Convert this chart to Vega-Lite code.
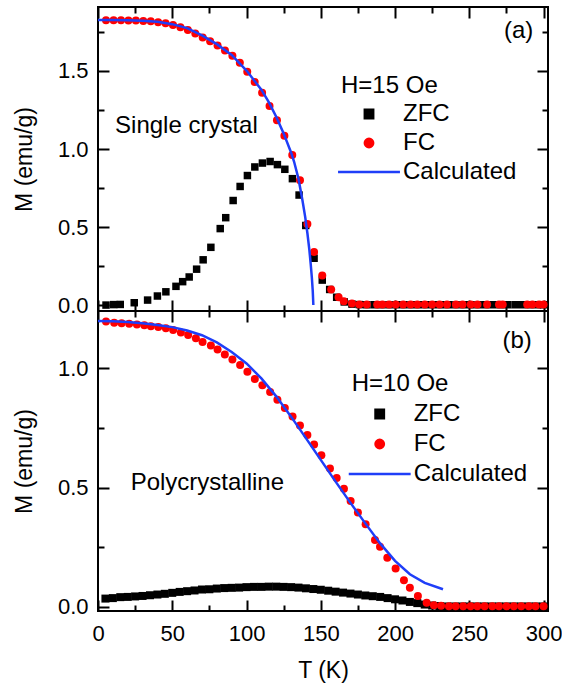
{
  "$schema": "https://vega.github.io/schema/vega-lite/v6.json",
  "background": "white",
  "padding": {"left": 12, "top": 5, "right": 0, "bottom": 5},
  "bounds": "flush",
  "spacing": 0,
  "config": {
    "font": "Liberation Sans",
    "view": {"stroke": "black", "strokeWidth": 2},
    "axis": {"domain": false, "tickColor": "black", "tickWidth": 2, "labelColor": "black", "labelFontSize": 22, "labelFont": "Liberation Sans", "titleFont": "Liberation Sans", "titleFontSize": 23, "titleFontWeight": "normal", "titleColor": "black", "grid": false, "labelFlush": false},
    "text": {"font": "Liberation Sans", "fontSize": 24, "color": "black"}
  },
  "datasets": {
    "a": [
      {"s":"ZFC","T":5.4,"M":0.0},{"s":"ZFC","T":10.6,"M":0.003},{"s":"ZFC","T":15,"M":0.004},{"s":"ZFC","T":24.4,"M":0.015},{"s":"ZFC","T":33.4,"M":0.032},{"s":"ZFC","T":40,"M":0.058},{"s":"ZFC","T":45.7,"M":0.085},{"s":"ZFC","T":52.5,"M":0.12},{"s":"ZFC","T":57,"M":0.15},{"s":"ZFC","T":61.4,"M":0.18},{"s":"ZFC","T":66.4,"M":0.23},{"s":"ZFC","T":70.8,"M":0.29},{"s":"ZFC","T":76,"M":0.37},{"s":"ZFC","T":82.3,"M":0.49},{"s":"ZFC","T":86,"M":0.56},{"s":"ZFC","T":91,"M":0.67},{"s":"ZFC","T":95.7,"M":0.76},{"s":"ZFC","T":100.6,"M":0.83},{"s":"ZFC","T":105.6,"M":0.885},{"s":"ZFC","T":110.7,"M":0.91},{"s":"ZFC","T":115.9,"M":0.92},{"s":"ZFC","T":120.8,"M":0.9},{"s":"ZFC","T":125.8,"M":0.87},{"s":"ZFC","T":130.9,"M":0.81},{"s":"ZFC","T":135.4,"M":0.705},{"s":"ZFC","T":139.9,"M":0.51},{"s":"ZFC","T":145.5,"M":0.3},{"s":"ZFC","T":151,"M":0.16},{"s":"ZFC","T":156,"M":0.1},{"s":"ZFC","T":160.7,"M":0.05},{"s":"ZFC","T":165.8,"M":0.02},{"s":"ZFC","T":171,"M":0.006},{"s":"ZFC","T":176,"M":0.003},{"s":"ZFC","T":181,"M":0.002},{"s":"ZFC","T":186,"M":0.002},{"s":"ZFC","T":191,"M":0.002},{"s":"ZFC","T":196,"M":0.002},{"s":"ZFC","T":201,"M":0.002},{"s":"ZFC","T":206,"M":0.002},{"s":"ZFC","T":211,"M":0.002},{"s":"ZFC","T":216,"M":0.002},{"s":"ZFC","T":221,"M":0.002},{"s":"ZFC","T":226,"M":0.002},{"s":"ZFC","T":231,"M":0.002},{"s":"ZFC","T":236,"M":0.002},{"s":"ZFC","T":241,"M":0.002},{"s":"ZFC","T":246,"M":0.002},{"s":"ZFC","T":251,"M":0.002},{"s":"ZFC","T":256,"M":0.002},{"s":"ZFC","T":261,"M":0.002},{"s":"ZFC","T":266,"M":0.002},{"s":"ZFC","T":271,"M":0.002},{"s":"ZFC","T":276,"M":0.002},{"s":"ZFC","T":281,"M":0.002},{"s":"ZFC","T":286,"M":0.002},{"s":"ZFC","T":291,"M":0.002},{"s":"ZFC","T":296,"M":0.002},{"s":"ZFC","T":300,"M":0.002},
      {"s":"FC","T":5.4,"M":1.825},{"s":"FC","T":10.5,"M":1.825},{"s":"FC","T":15.5,"M":1.825},{"s":"FC","T":20.5,"M":1.824},{"s":"FC","T":25.5,"M":1.823},{"s":"FC","T":30.5,"M":1.821},{"s":"FC","T":35.5,"M":1.818},{"s":"FC","T":40.5,"M":1.813},{"s":"FC","T":45.5,"M":1.806},{"s":"FC","T":50.5,"M":1.795},{"s":"FC","T":55.5,"M":1.78},{"s":"FC","T":60.5,"M":1.763},{"s":"FC","T":65.5,"M":1.74},{"s":"FC","T":70.5,"M":1.715},{"s":"FC","T":75.5,"M":1.69},{"s":"FC","T":80.5,"M":1.663},{"s":"FC","T":85.5,"M":1.632},{"s":"FC","T":90.5,"M":1.598},{"s":"FC","T":95.5,"M":1.552},{"s":"FC","T":100.5,"M":1.495},{"s":"FC","T":105.5,"M":1.43},{"s":"FC","T":110.5,"M":1.36},{"s":"FC","T":115.5,"M":1.275},{"s":"FC","T":120.5,"M":1.185},{"s":"FC","T":125.5,"M":1.085},{"s":"FC","T":130.8,"M":0.962},{"s":"FC","T":136,"M":0.8},{"s":"FC","T":141,"M":0.52},{"s":"FC","T":145.5,"M":0.34},{"s":"FC","T":151,"M":0.19},{"s":"FC","T":157,"M":0.1},{"s":"FC","T":162,"M":0.05},{"s":"FC","T":165.5,"M":0.025},{"s":"FC","T":171,"M":0.01},{"s":"FC","T":176,"M":0.004},{"s":"FC","T":181,"M":0.004},{"s":"FC","T":188,"M":0.004},{"s":"FC","T":191.5,"M":0.004},{"s":"FC","T":196,"M":0.004},{"s":"FC","T":200.5,"M":0.004},{"s":"FC","T":205.5,"M":0.004},{"s":"FC","T":210.5,"M":0.004},{"s":"FC","T":215,"M":0.004},{"s":"FC","T":220,"M":0.004},{"s":"FC","T":225,"M":0.004},{"s":"FC","T":230,"M":0.004},{"s":"FC","T":235,"M":0.004},{"s":"FC","T":241,"M":0.004},{"s":"FC","T":245.5,"M":0.004},{"s":"FC","T":251,"M":0.004},{"s":"FC","T":255.5,"M":0.004},{"s":"FC","T":262,"M":0.004},{"s":"FC","T":270,"M":0.004},{"s":"FC","T":272.5,"M":0.004},{"s":"FC","T":289,"M":0.004},{"s":"FC","T":292.5,"M":0.004},{"s":"FC","T":297,"M":0.004},{"s":"FC","T":300,"M":0.004},
      {"s":"Calculated","T":0,"M":1.826},{"s":"Calculated","T":10,"M":1.826},{"s":"Calculated","T":20,"M":1.825},{"s":"Calculated","T":30,"M":1.822},{"s":"Calculated","T":40,"M":1.815},{"s":"Calculated","T":50,"M":1.8},{"s":"Calculated","T":60,"M":1.775},{"s":"Calculated","T":70,"M":1.728},{"s":"Calculated","T":80,"M":1.672},{"s":"Calculated","T":90,"M":1.603},{"s":"Calculated","T":100,"M":1.503},{"s":"Calculated","T":110,"M":1.38},{"s":"Calculated","T":115,"M":1.3},{"s":"Calculated","T":120,"M":1.207},{"s":"Calculated","T":125,"M":1.1},{"s":"Calculated","T":130,"M":0.978},{"s":"Calculated","T":132,"M":0.92},{"s":"Calculated","T":135,"M":0.81},{"s":"Calculated","T":137.6,"M":0.675},{"s":"Calculated","T":139.5,"M":0.565},{"s":"Calculated","T":141,"M":0.46},{"s":"Calculated","T":142.3,"M":0.355},{"s":"Calculated","T":143.2,"M":0.265},{"s":"Calculated","T":144,"M":0.175},{"s":"Calculated","T":144.6,"M":0.09},{"s":"Calculated","T":145,"M":0.0}
    ],
    "b": [
      {"s":"ZFC","T":5,"M":0.035},{"s":"ZFC","T":10,"M":0.037},{"s":"ZFC","T":15,"M":0.041},{"s":"ZFC","T":20,"M":0.042},{"s":"ZFC","T":25,"M":0.044},{"s":"ZFC","T":30,"M":0.046},{"s":"ZFC","T":35,"M":0.049},{"s":"ZFC","T":40,"M":0.052},{"s":"ZFC","T":45,"M":0.055},{"s":"ZFC","T":50,"M":0.059},{"s":"ZFC","T":55,"M":0.063},{"s":"ZFC","T":60,"M":0.066},{"s":"ZFC","T":65,"M":0.069},{"s":"ZFC","T":70,"M":0.073},{"s":"ZFC","T":75,"M":0.074},{"s":"ZFC","T":80,"M":0.077},{"s":"ZFC","T":85,"M":0.079},{"s":"ZFC","T":90,"M":0.08},{"s":"ZFC","T":95,"M":0.081},{"s":"ZFC","T":100,"M":0.083},{"s":"ZFC","T":105,"M":0.084},{"s":"ZFC","T":110,"M":0.084},{"s":"ZFC","T":115,"M":0.085},{"s":"ZFC","T":120,"M":0.085},{"s":"ZFC","T":125,"M":0.084},{"s":"ZFC","T":130,"M":0.083},{"s":"ZFC","T":135,"M":0.081},{"s":"ZFC","T":140,"M":0.078},{"s":"ZFC","T":145,"M":0.075},{"s":"ZFC","T":150,"M":0.072},{"s":"ZFC","T":155,"M":0.068},{"s":"ZFC","T":160,"M":0.064},{"s":"ZFC","T":165,"M":0.06},{"s":"ZFC","T":170,"M":0.056},{"s":"ZFC","T":175,"M":0.052},{"s":"ZFC","T":180,"M":0.048},{"s":"ZFC","T":185,"M":0.045},{"s":"ZFC","T":190,"M":0.042},{"s":"ZFC","T":195,"M":0.037},{"s":"ZFC","T":200,"M":0.032},{"s":"ZFC","T":205,"M":0.027},{"s":"ZFC","T":210,"M":0.021},{"s":"ZFC","T":215,"M":0.016},{"s":"ZFC","T":220,"M":0.01},{"s":"ZFC","T":225,"M":0.006},{"s":"ZFC","T":230,"M":0.004},{"s":"ZFC","T":235,"M":0.002},{"s":"ZFC","T":240,"M":0.002},{"s":"ZFC","T":245,"M":0.002},{"s":"ZFC","T":250,"M":0.002},{"s":"ZFC","T":255,"M":0.002},{"s":"ZFC","T":260,"M":0.002},{"s":"ZFC","T":265,"M":0.002},{"s":"ZFC","T":270,"M":0.002},{"s":"ZFC","T":275,"M":0.002},{"s":"ZFC","T":280,"M":0.002},{"s":"ZFC","T":285,"M":0.002},{"s":"ZFC","T":290,"M":0.002},{"s":"ZFC","T":295,"M":0.002},{"s":"ZFC","T":300,"M":0.002},
      {"s":"FC","T":5.4,"M":1.195},{"s":"FC","T":10.9,"M":1.19},{"s":"FC","T":15.9,"M":1.188},{"s":"FC","T":21,"M":1.186},{"s":"FC","T":26.2,"M":1.183},{"s":"FC","T":31.2,"M":1.18},{"s":"FC","T":35.6,"M":1.176},{"s":"FC","T":40.6,"M":1.172},{"s":"FC","T":45.7,"M":1.167},{"s":"FC","T":50.6,"M":1.16},{"s":"FC","T":55.8,"M":1.149},{"s":"FC","T":60.7,"M":1.139},{"s":"FC","T":65.9,"M":1.125},{"s":"FC","T":70.4,"M":1.11},{"s":"FC","T":76,"M":1.095},{"s":"FC","T":80.5,"M":1.078},{"s":"FC","T":85.4,"M":1.057},{"s":"FC","T":90.5,"M":1.036},{"s":"FC","T":95.7,"M":1.013},{"s":"FC","T":100.6,"M":0.985},{"s":"FC","T":105.6,"M":0.955},{"s":"FC","T":110.7,"M":0.929},{"s":"FC","T":115.9,"M":0.9},{"s":"FC","T":120.8,"M":0.868},{"s":"FC","T":125.8,"M":0.833},{"s":"FC","T":131,"M":0.798},{"s":"FC","T":136,"M":0.76},{"s":"FC","T":141,"M":0.72},{"s":"FC","T":145.5,"M":0.68},{"s":"FC","T":150.4,"M":0.635},{"s":"FC","T":156.2,"M":0.58},{"s":"FC","T":160.7,"M":0.54},{"s":"FC","T":165.6,"M":0.495},{"s":"FC","T":170.1,"M":0.444},{"s":"FC","T":175,"M":0.396},{"s":"FC","T":180.2,"M":0.346},{"s":"FC","T":186.5,"M":0.28},{"s":"FC","T":189.9,"M":0.252},{"s":"FC","T":194.8,"M":0.206},{"s":"FC","T":200.4,"M":0.161},{"s":"FC","T":206,"M":0.112},{"s":"FC","T":210,"M":0.08},{"s":"FC","T":215.4,"M":0.046},{"s":"FC","T":221.3,"M":0.018},{"s":"FC","T":226.2,"M":0.007},{"s":"FC","T":231,"M":0.005},{"s":"FC","T":236.3,"M":0.003},{"s":"FC","T":240.8,"M":0.003},{"s":"FC","T":245.9,"M":0.003},{"s":"FC","T":250.9,"M":0.003},{"s":"FC","T":255.4,"M":0.003},{"s":"FC","T":260.3,"M":0.003},{"s":"FC","T":265.5,"M":0.003},{"s":"FC","T":270,"M":0.003},{"s":"FC","T":275.1,"M":0.003},{"s":"FC","T":280,"M":0.003},{"s":"FC","T":285,"M":0.003},{"s":"FC","T":290.1,"M":0.003},{"s":"FC","T":294.6,"M":0.003},{"s":"FC","T":300,"M":0.003},
      {"s":"Calculated","T":0,"M":1.198},{"s":"Calculated","T":10,"M":1.197},{"s":"Calculated","T":20,"M":1.193},{"s":"Calculated","T":30,"M":1.188},{"s":"Calculated","T":40,"M":1.181},{"s":"Calculated","T":50,"M":1.172},{"s":"Calculated","T":60,"M":1.158},{"s":"Calculated","T":70,"M":1.138},{"s":"Calculated","T":80,"M":1.108},{"s":"Calculated","T":90,"M":1.068},{"s":"Calculated","T":100,"M":1.02},{"s":"Calculated","T":110,"M":0.957},{"s":"Calculated","T":120,"M":0.882},{"s":"Calculated","T":130,"M":0.797},{"s":"Calculated","T":140,"M":0.707},{"s":"Calculated","T":150,"M":0.616},{"s":"Calculated","T":160,"M":0.525},{"s":"Calculated","T":170,"M":0.436},{"s":"Calculated","T":180,"M":0.35},{"s":"Calculated","T":190,"M":0.266},{"s":"Calculated","T":200,"M":0.193},{"s":"Calculated","T":210,"M":0.137},{"s":"Calculated","T":220,"M":0.101},{"s":"Calculated","T":232.3,"M":0.074}
    ],
    "one": [{"k": 1}]
  },
  "resolve": {"scale": {"color": "independent", "shape": "independent"}, "legend": {"color": "independent", "shape": "independent"}},
  "vconcat": [
    {
      "width": 450,
      "height": 304,
      "data": {"name": "a"},
      "resolve": {"axis": {"x": "independent", "y": "independent"}},
      "layer": [
        {
          "transform": [{"filter": "datum.s === 'ZFC'"}],
          "mark": {"type": "point", "filled": true, "opacity": 1, "size": 56},
          "encoding": {
            "x": {"field": "T", "type": "quantitative", "scale": {"domain": [0, 303], "nice": false, "zero": false}, "axis": {"orient": "bottom", "values": [0,50,100,150,200,250,300], "tickSize": 11, "offset": -11, "labels": false, "title": null}},
            "y": {"field": "M", "type": "quantitative", "scale": {"domain": [-0.038, 1.91], "nice": false, "zero": false}, "axis": {"orient": "left", "values": [0,0.5,1,1.5], "format": ".1f", "tickSize": 11, "offset": -11, "labelPadding": 10, "title": "M (emu/g)", "titlePadding": 21}},
            "color": {"field": "s", "type": "nominal", "scale": {"domain": ["ZFC","FC","Calculated"], "range": ["#000000","#ff0000","#1f3ef8"]}, "legend": {"title": "H=15 Oe", "orient": "none", "legendX": 243, "legendY": 67, "padding": 0, "titleFontSize": 24, "titleFontWeight": "normal", "titleColor": "black", "titlePadding": 4, "labelFontSize": 24, "labelColor": "black", "labelOffset": 22, "symbolOffset": 16, "symbolSize": 70, "symbolStrokeWidth": 2.5, "rowPadding": 5, "symbolOpacity": 1, "encode": {"symbols": {"update": {"stroke": {"signal": "datum.value === 'Calculated' ? '#1f3ef8' : 'transparent'"}}}}}},
            "shape": {"field": "s", "type": "nominal", "scale": {"domain": ["ZFC","FC","Calculated"], "range": ["square","circle","M-7.4,0H7.4"]}, "legend": {"title": "H=15 Oe", "orient": "none", "legendX": 243, "legendY": 67, "padding": 0, "titleFontSize": 24, "titleFontWeight": "normal", "titleColor": "black", "titlePadding": 4, "labelFontSize": 24, "labelColor": "black", "labelOffset": 22, "symbolOffset": 16, "symbolSize": 70, "symbolStrokeWidth": 2.5, "rowPadding": 5, "symbolOpacity": 1, "encode": {"symbols": {"update": {"stroke": {"signal": "datum.value === 'Calculated' ? '#1f3ef8' : 'transparent'"}}}}}}
          }
        },
        {
          "transform": [{"filter": "datum.s === 'FC'"}],
          "mark": {"type": "point", "filled": true, "opacity": 1, "size": 64},
          "encoding": {
            "x": {"field": "T", "type": "quantitative", "axis": {"orient": "top", "values": [0,50,100,150,200,250,300], "tickSize": 11, "offset": -11, "labels": false, "title": null}},
            "y": {"field": "M", "type": "quantitative", "axis": {"orient": "right", "values": [0,0.5,1,1.5], "tickSize": 11, "offset": -11, "labels": false, "title": null}},
            "color": {"field": "s", "type": "nominal"},
            "shape": {"field": "s", "type": "nominal"}
          }
        },
        {
          "transform": [{"filter": "datum.s === 'Calculated'"}],
          "mark": {"type": "line", "strokeWidth": 2.5},
          "encoding": {
            "x": {"field": "T", "type": "quantitative", "axis": {"orient": "bottom", "values": [25,75,125,175,225,275], "tickSize": 6, "offset": -6, "labels": false, "title": null}},
            "y": {"field": "M", "type": "quantitative", "axis": {"orient": "left", "values": [0.25,0.75,1.25,1.75], "tickSize": 6, "offset": -6, "labels": false, "title": null}},
            "color": {"field": "s", "type": "nominal"}
          }
        },
        {
          "data": {"name": "one"},
          "mark": {"type": "text", "align": "center", "baseline": "middle", "fontSize": 24},
          "encoding": {
            "x": {"datum": 283.2, "type": "quantitative", "axis": {"orient": "top", "values": [25,75,125,175,225,275], "tickSize": 6, "offset": -6, "labels": false, "title": null}},
            "y": {"datum": 1.756, "type": "quantitative", "axis": {"orient": "right", "values": [0.25,0.75,1.25,1.75], "tickSize": 6, "offset": -6, "labels": false, "title": null}},
            "text": {"value": "(a)"}
          }
        },
        {
          "data": {"name": "one"},
          "mark": {"type": "text", "align": "left", "baseline": "middle", "fontSize": 24},
          "encoding": {
            "x": {"datum": 11.5, "type": "quantitative", "axis": null},
            "y": {"datum": 1.147, "type": "quantitative", "axis": null},
            "text": {"value": "Single crystal"}
          }
        }
      ]
    },
    {
      "width": 450,
      "height": 300,
      "data": {"name": "b"},
      "resolve": {"axis": {"x": "independent", "y": "independent"}},
      "layer": [
        {
          "transform": [{"filter": "datum.s === 'ZFC'"}],
          "mark": {"type": "point", "filled": true, "opacity": 1, "size": 64},
          "encoding": {
            "x": {"field": "T", "type": "quantitative", "scale": {"domain": [0, 303], "nice": false, "zero": false}, "axis": {"orient": "bottom", "values": [0,50,100,150,200,250,300], "tickSize": 11, "offset": -11, "labelPadding": 12, "title": "T (K)", "titlePadding": 15}},
            "y": {"field": "M", "type": "quantitative", "scale": {"domain": [-0.017, 1.2395], "nice": false, "zero": false}, "axis": {"orient": "left", "values": [0,0.5,1], "format": ".1f", "tickSize": 11, "offset": -11, "labelPadding": 10, "title": "M (emu/g)", "titlePadding": 21}},
            "color": {"field": "s", "type": "nominal", "scale": {"domain": ["ZFC","FC","Calculated"], "range": ["#000000","#ff0000","#1f3ef8"]}, "legend": {"title": "H=10 Oe", "orient": "none", "legendX": 253.7, "legendY": 61, "padding": 0, "titleFontSize": 24, "titleFontWeight": "normal", "titleColor": "black", "titlePadding": 6, "labelFontSize": 24, "labelColor": "black", "labelOffset": 22, "symbolOffset": 16, "symbolSize": 70, "symbolStrokeWidth": 2.5, "rowPadding": 6, "symbolOpacity": 1, "encode": {"symbols": {"update": {"stroke": {"signal": "datum.value === 'Calculated' ? '#1f3ef8' : 'transparent'"}}}}}},
            "shape": {"field": "s", "type": "nominal", "scale": {"domain": ["ZFC","FC","Calculated"], "range": ["square","circle","M-7.4,0H7.4"]}, "legend": {"title": "H=10 Oe", "orient": "none", "legendX": 253.7, "legendY": 61, "padding": 0, "titleFontSize": 24, "titleFontWeight": "normal", "titleColor": "black", "titlePadding": 6, "labelFontSize": 24, "labelColor": "black", "labelOffset": 22, "symbolOffset": 16, "symbolSize": 70, "symbolStrokeWidth": 2.5, "rowPadding": 6, "symbolOpacity": 1, "encode": {"symbols": {"update": {"stroke": {"signal": "datum.value === 'Calculated' ? '#1f3ef8' : 'transparent'"}}}}}}
          }
        },
        {
          "transform": [{"filter": "datum.s === 'FC'"}],
          "mark": {"type": "point", "filled": true, "opacity": 1, "size": 64},
          "encoding": {
            "x": {"field": "T", "type": "quantitative", "axis": {"orient": "top", "values": [0,50,100,150,200,250,300], "tickSize": 11, "offset": -11, "labels": false, "title": null}},
            "y": {"field": "M", "type": "quantitative", "axis": {"orient": "right", "values": [0,0.5,1], "tickSize": 11, "offset": -11, "labels": false, "title": null}},
            "color": {"field": "s", "type": "nominal"},
            "shape": {"field": "s", "type": "nominal"}
          }
        },
        {
          "transform": [{"filter": "datum.s === 'Calculated'"}],
          "mark": {"type": "line", "strokeWidth": 2.5},
          "encoding": {
            "x": {"field": "T", "type": "quantitative", "axis": {"orient": "bottom", "values": [25,75,125,175,225,275], "tickSize": 6, "offset": -6, "labels": false, "title": null}},
            "y": {"field": "M", "type": "quantitative", "axis": {"orient": "left", "values": [0.25,0.75], "tickSize": 6, "offset": -6, "labels": false, "title": null}},
            "color": {"field": "s", "type": "nominal"}
          }
        },
        {
          "data": {"name": "one"},
          "mark": {"type": "text", "align": "center", "baseline": "middle", "fontSize": 24},
          "encoding": {
            "x": {"datum": 282.2, "type": "quantitative", "axis": {"orient": "top", "values": [25,75,125,175,225,275], "tickSize": 6, "offset": -6, "labels": false, "title": null}},
            "y": {"datum": 1.113, "type": "quantitative", "axis": {"orient": "right", "values": [0.25,0.75], "tickSize": 6, "offset": -6, "labels": false, "title": null}},
            "text": {"value": "(b)"}
          }
        },
        {
          "data": {"name": "one"},
          "mark": {"type": "text", "align": "left", "baseline": "middle", "fontSize": 24},
          "encoding": {
            "x": {"datum": 22, "type": "quantitative", "axis": null},
            "y": {"datum": 0.518, "type": "quantitative", "axis": null},
            "text": {"value": "Polycrystalline"}
          }
        }
      ]
    }
  ]
}
